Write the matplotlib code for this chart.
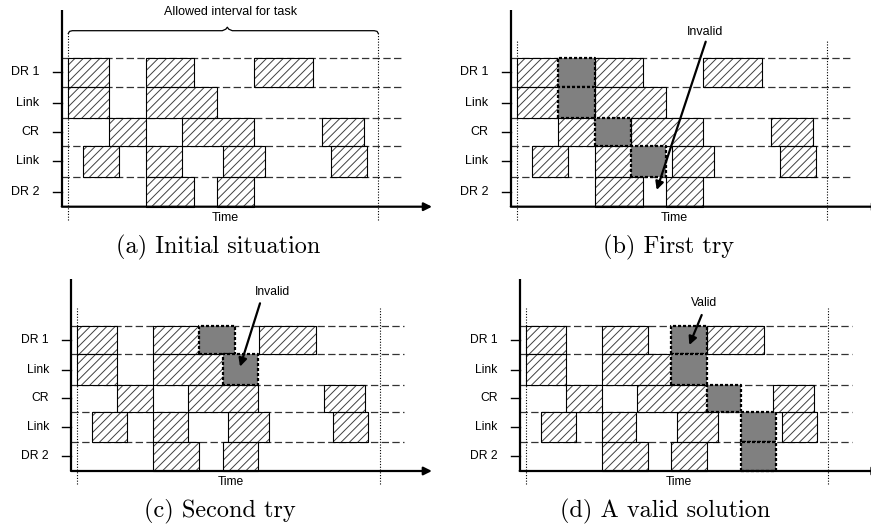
import numpy as np
import matplotlib.pyplot as plt

plt.rcParams['lines.scale_dashes'] = False
plt.rcParams['hatch.linewidth'] = 0.7
plt.rcParams['hatch.color'] = '#404040'
plt.rcParams['font.family'] = ['Liberation Sans', 'DejaVu Sans']

W, H = 871, 527

row_labels = ['DR 1', 'Link', 'CR', 'Link', 'DR 2']
row_edges = [149, 119.5, 88.5, 60.5, 30, 0]   # top to bottom

# hatched tasks, the same in every panel: (start, end) per row
dr1_tasks = [(0, 41), (77.5, 125.3), (186, 244.4)]
link1_tasks = [(0, 41), (77.5, 149)]
cr_tasks = [(41, 77.5), (113.5, 185.3), (253.5, 295.3)]
link2_tasks = [(15, 51), (77.5, 113.3), (155, 197), (262.3, 298.5)]
dr2_tasks = [(77.5, 125.3), (149, 185.3)]
tasks = [dr1_tasks, link1_tasks, cr_tasks, link2_tasks, dr2_tasks]

# placement of the new task in each panel: (row, start, end)
try_a = []
try_b = [(0, 41, 77.5), (1, 41, 77.5), (2, 77.5, 113.3), (3, 113.3, 148.5)]
try_c = [(0, 125.3, 161.5), (1, 149, 185.3)]
try_d = [(0, 149, 185.3), (1, 149, 185.3), (2, 185.3, 220.8),
         (3, 220.8, 256.5), (4, 220.8, 256.5)]

interval = (0, 310)
captions = ['(a) Initial situation', '(b) First try', '(c) Second try', '(d) A valid solution']

fig = plt.figure(figsize=(W / 100, H / 100), dpi=100)


def panel(x0, yb, s, placed, top):
    ax = fig.add_axes([(x0 - 70 * s) / W, (H - (yb + 45 * s)) / H, 450 * s / W, 250 * s / H])
    ax.set_xlim(-70, 380)
    ax.set_ylim(-45, 205)
    ax.axis('off')

    # axes
    ax.plot([-6, -6], [0, 196.7], color='black', lw=1.6, solid_capstyle='butt', zorder=5)
    ax.annotate('', xy=(363.7, 0), xytext=(-6.5, 0),
                arrowprops=dict(arrowstyle='-|>', lw=1.6, color='black',
                                mutation_scale=12, shrinkA=0, shrinkB=0), zorder=5)

    for y in row_edges[:-1]:
        ax.plot([-6, 334.7], [y, y], color='#333333', lw=0.9,
                linestyle=(0, (5.3, 2.4)), zorder=1)
    for x in interval:
        ax.plot([x, x], [-13.3, top], color='black', lw=0.8,
                linestyle=(0, (0.8, 1.2)), zorder=1.5)

    for i, lab in enumerate(row_labels):
        lo, hi = row_edges[i + 1], row_edges[i]
        yc = (lo + hi) / 2
        ax.plot([-15.5, -6], [yc, yc], color='black', lw=1)
        ax.text(-29, yc, lab, ha='right', va='center', fontsize=9 * s)
        xr = [(a, b - a) for a, b in tasks[i]]
        ax.broken_barh(xr, (lo, hi - lo), facecolors='white', edgecolors='#404040',
                       hatch='////', linewidth=0, zorder=2)
        ax.broken_barh(xr, (lo, hi - lo), facecolors='none', edgecolors='black',
                       linewidth=0.8, zorder=3)

    for r, a, b in placed:
        lo, hi = row_edges[r + 1], row_edges[r]
        ax.broken_barh([(a, b - a)], (lo, hi - lo), facecolors='#808080', edgecolors='black',
                       linewidth=1.6, linestyle=(0, (2.2, 1.4)), zorder=4)

    ax.text(157, -11.7, 'Time', ha='center', va='center', fontsize=9 * s)
    return ax


ax_a = panel(68.3, 206.7, 1.0, try_a, 173.3)
ax_b = panel(517.3, 206.7, 1.0, try_b, 167)
ax_c = panel(77.3, 471, 0.975, try_c, 167)
ax_d = panel(526, 471, 0.975, try_d, 167)

# brace for the allowed interval
cx = 159
bx = [0, 1.2, 4, cx - 5, cx - 1.5, cx, cx + 1.5, cx + 5, 306, 308.8, 310]
by = [173.2, 175.3, 176, 176, 177.5, 179.5, 177.5, 176, 176, 175.3, 173.2]
ax_a.plot(bx, by, color='black', lw=0.9)
ax_a.text(162.5, 195, 'Allowed interval for task', ha='center', va='center', fontsize=9)

arrow = dict(arrowstyle='-|>', lw=1.6, color='black', mutation_scale=12, shrinkA=0, shrinkB=0)
ax_b.text(187.7, 174.7, 'Invalid', ha='center', va='center', fontsize=9)
ax_b.annotate('', xy=(139.4, 16.7), xytext=(188.4, 165), arrowprops=arrow, zorder=6)
ax_c.text(200.2, 184, 'Invalid', ha='center', va='center', fontsize=9 * 0.975)
ax_c.annotate('', xy=(166.9, 107), xytext=(187.4, 172), arrowprops=arrow, zorder=6)
ax_d.text(182.3, 172, 'Valid', ha='center', va='center', fontsize=9 * 0.975)
ax_d.annotate('', xy=(167.5, 129.2), xytext=(180.2, 160), arrowprops=arrow, zorder=6)

for (x, y), cap in zip([(218, 247), (669, 247), (219.5, 511.5), (665, 511.5)], captions):
    fig.text(x / W, 1 - y / H, cap, ha='center', va='center', fontsize=17.5, family='cmr10')

fig.savefig('out.png', dpi=100)
